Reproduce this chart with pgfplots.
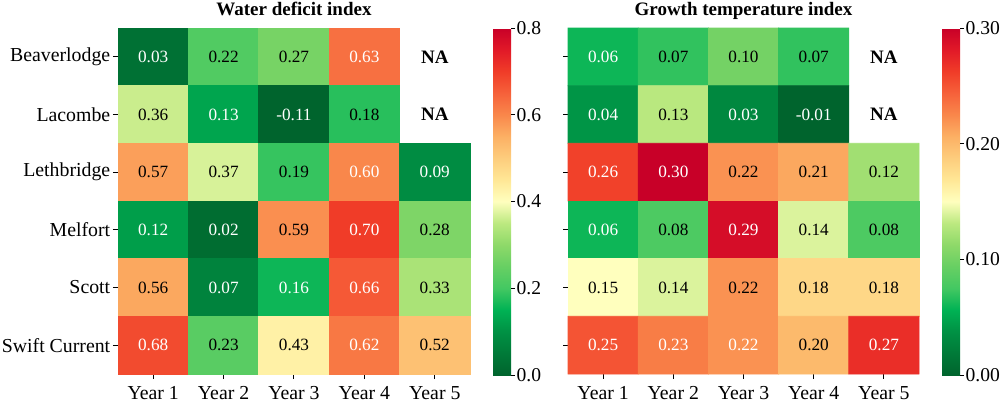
\documentclass[border=0pt]{standalone}
\usepackage{fontspec}
\setmainfont{Liberation Serif}
\usepackage{pgfplots}
\usepackage{pgfplotstable}
\pgfplotsset{compat=1.18}

\pgfplotsset{
  colormap={gyr}{rgb255=(0,100,45) rgb255=(0,122,56) rgb255=(0,145,68) rgb255=(0,178,84) rgb255=(67,200,98) rgb255=(103,207,99) rgb255=(142,217,105) rgb255=(188,233,128) rgb255=(255,255,190) rgb255=(255,231,150) rgb255=(253,205,125) rgb255=(252,176,100) rgb255=(249,135,75) rgb255=(246,97,58) rgb255=(240,60,40) rgb255=(225,25,40) rgb255=(200,0,40)}
}

% Water deficit index (w = 100: white label, 0: black label)
\pgfplotstableread{
x y v w
0 0 0.03 100
1 0 0.22 0
2 0 0.27 0
3 0 0.63 100
0 1 0.36 0
1 1 0.13 100
2 1 -0.11 100
3 1 0.18 0
}\wdtop
\pgfplotstableread{
x y v w
0 2 0.57 0
1 2 0.37 0
2 2 0.19 0
3 2 0.60 100
4 2 0.09 100
0 3 0.12 100
1 3 0.02 100
2 3 0.59 0
3 3 0.70 100
4 3 0.28 0
0 4 0.56 0
1 4 0.07 100
2 4 0.16 100
3 4 0.66 100
4 4 0.33 0
0 5 0.68 100
1 5 0.23 0
2 5 0.43 0
3 5 0.62 100
4 5 0.52 0
}\wdbot
% Growth temperature index
\pgfplotstableread{
x y v w
0 0 0.06 100
1 0 0.07 0
2 0 0.10 0
3 0 0.07 0
0 1 0.04 100
1 1 0.13 0
2 1 0.03 100
3 1 -0.01 100
}\gttop
\pgfplotstableread{
x y v w
0 2 0.26 100
1 2 0.30 100
2 2 0.22 0
3 2 0.21 0
4 2 0.12 0
0 3 0.06 100
1 3 0.08 0
2 3 0.29 100
3 3 0.14 0
4 3 0.08 0
0 4 0.15 0
1 4 0.14 0
2 4 0.22 0
3 4 0.18 0
4 4 0.18 0
0 5 0.25 100
1 5 0.23 100
2 5 0.22 100
3 5 0.20 0
4 5 0.27 100
}\gtbot
\pgfplotstableread{
x y t
4 0 NA
4 1 NA
}\natab

\pgfplotsset{
  heat/.style={
    scale only axis, anchor=north west,
    xmin=-0.5, xmax=4.5, ymin=-0.5, ymax=5.5, y dir=reverse,
    xtick={0,1,2,3,4}, xticklabels={Year 1,Year 2,Year 3,Year 4,Year 5},
    ytick={0,1,2,3,4,5},
    axis line style={draw=none},
    tick align=outside, major tick length=2.5pt,
    tick style={black, line width=0.5pt},
    tick pos=left,
    tick label style={font=\fontsize{9.9}{11}\selectfont},
    yticklabel style={inner sep=1.2pt},
    every axis title/.style={at={(0.5,1)}, anchor=base, yshift=6.5pt,
      font=\bfseries\fontsize{9.5}{11}\selectfont},
    colormap name=gyr, clip=false,
    colorbar,
  },
  cbar/.style={
    scale only axis,
    at={(parent axis.north east)}, anchor=north west, xshift=3pt,
    width=9pt, height=173.5pt,
    axis line style={draw=none},
    tick align=outside, major tick length=2pt,
    tick style={black, line width=0.5pt},
    ytick pos=right,
    yticklabel style={font=\fontsize{9.8}{12}\selectfont, inner sep=0.6pt},
  },
  lblw/.style={draw=none, mark=none, nodes near coords, point meta=explicit symbolic,
    restrict expr to domain={\thisrow{w}}{50:200},
    every node near coord/.append style={anchor=center, inner sep=0pt, font=\fontsize{8.6}{10}\selectfont, text=white}},
  lblb/.style={draw=none, mark=none, nodes near coords, point meta=explicit symbolic,
    restrict expr to domain={\thisrow{w}}{-10:50},
    every node near coord/.append style={anchor=center, inner sep=0pt, font=\fontsize{8.6}{10}\selectfont, text=black}},
  nalbl/.style={draw=none, mark=none, nodes near coords, point meta=explicit symbolic,
    every node near coord/.append style={anchor=center, inner sep=0pt, font=\bfseries\fontsize{9.5}{11}\selectfont, text=black}},
}

\begin{document}
\begin{tikzpicture}
\path[use as bounding box] (0,0) rectangle (500pt,-201pt);

\begin{axis}[heat,
  at={(59pt,-14pt)}, width=176pt, height=173pt,
  yticklabels={Beaverlodge,Lacombe,Lethbridge,Melfort,Scott,Swift Current},
  title={Water deficit index},
  point meta min=0, point meta max=0.8,
  colorbar style={cbar, ytick={0,0.2,0.4,0.6,0.8},
    yticklabels={0.0,0.2,0.4,0.6,0.8}},
]
\addplot[matrix plot*, mesh/cols=4, point meta=explicit] table[x=x,y=y,meta=v]{\wdtop};
\addplot[matrix plot*, mesh/cols=5, point meta=explicit] table[x=x,y=y,meta=v]{\wdbot};
\addplot[lblw] table[x=x,y=y,meta=v]{\wdtop};
\addplot[lblb] table[x=x,y=y,meta=v]{\wdtop};
\addplot[lblw] table[x=x,y=y,meta=v]{\wdbot};
\addplot[lblb] table[x=x,y=y,meta=v]{\wdbot};
\addplot[nalbl] table[x=x,y=y,meta=t]{\natab};
\end{axis}

\begin{axis}[heat,
  at={(284pt,-14pt)}, width=175.5pt, height=173pt,
  yticklabels={,,,,,},
  title={Growth temperature index},
  point meta min=0, point meta max=0.30,
  colorbar style={cbar, ytick={0,0.1,0.2,0.3},
    yticklabels={0.00,0.10,0.20,0.30}},
]
\addplot[matrix plot*, mesh/cols=4, point meta=explicit] table[x=x,y=y,meta=v]{\gttop};
\addplot[matrix plot*, mesh/cols=5, point meta=explicit] table[x=x,y=y,meta=v]{\gtbot};
\addplot[lblw] table[x=x,y=y,meta=v]{\gttop};
\addplot[lblb] table[x=x,y=y,meta=v]{\gttop};
\addplot[lblw] table[x=x,y=y,meta=v]{\gtbot};
\addplot[lblb] table[x=x,y=y,meta=v]{\gtbot};
\addplot[nalbl] table[x=x,y=y,meta=t]{\natab};
\end{axis}
\end{tikzpicture}
\end{document}
